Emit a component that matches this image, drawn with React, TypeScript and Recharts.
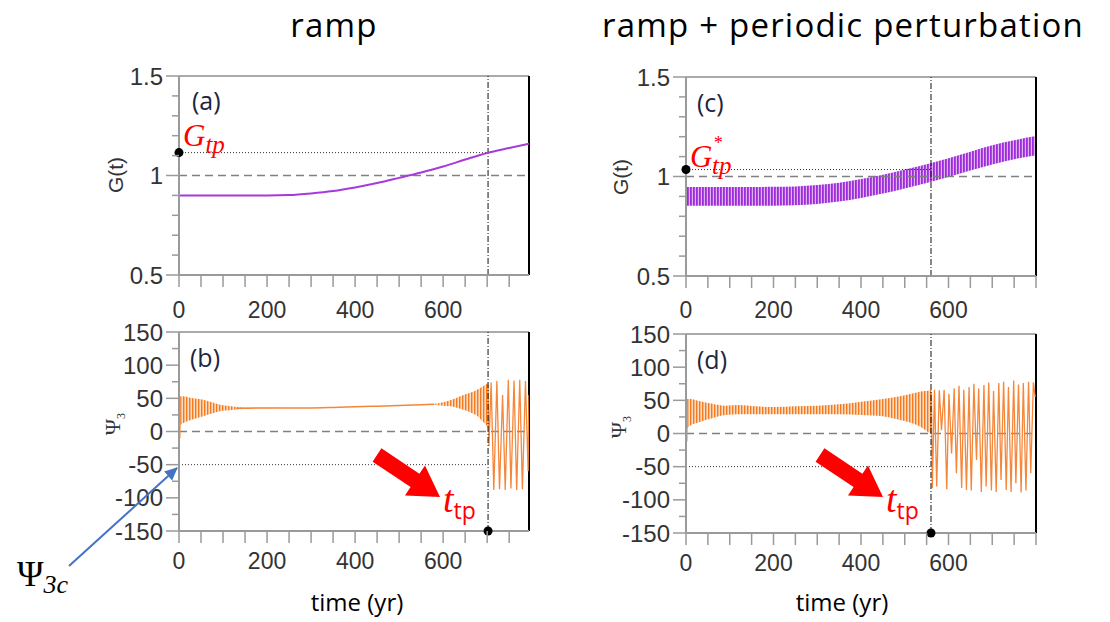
import React from "react";
import {
  ComposedChart,
  Line,
  Area,
  XAxis,
  YAxis,
  ReferenceLine,
  ReferenceDot,
} from "recharts";

// axis ticks
const xTicksAB = [0, 50, 100, 150, 200, 250, 300, 350, 400, 450, 500, 550, 600, 650, 700, 750];
const xTicksCD = [0, 50, 100, 150, 200, 250, 300, 350, 400, 450, 500, 550, 600, 650, 700, 750, 800];
const xLabels = [0, 200, 400, 600];
const gTicks = [0.5, 0.6, 0.7, 0.8, 0.9, 1, 1.1, 1.2, 1.3, 1.4, 1.5];
const gLabels = [0.5, 1, 1.5];
const psiTicks = [-150, -125, -100, -75, -50, -25, 0, 25, 50, 75, 100, 125, 150];
const psiLabels = [-150, -100, -50, 0, 50, 100, 150];

// (a) ramp
const aT = [0, 50, 100, 150, 200, 250, 300, 350, 400, 450, 500, 550, 600, 650, 700, 750, 795];
const aG = [0.9, 0.9, 0.9, 0.9, 0.9, 0.902, 0.91, 0.922, 0.94, 0.962, 0.988, 1.015, 1.045, 1.08, 1.113, 1.138, 1.16];
const gTip = 1.115;
const tTipA = 702;

// (c) ramp + periodic perturbation (envelope of the fast oscillation)
const cT = [0, 50, 100, 150, 200, 250, 300, 350, 400, 450, 500, 550, 600, 650, 700, 750, 800];
const cHi = [0.947, 0.947, 0.947, 0.947, 0.948, 0.95, 0.957, 0.969, 0.987, 1.009, 1.035, 1.062, 1.092, 1.125, 1.157, 1.182, 1.203];
const cLo = [0.853, 0.853, 0.853, 0.853, 0.853, 0.855, 0.862, 0.874, 0.892, 0.914, 0.94, 0.967, 0.997, 1.03, 1.06, 1.087, 1.107];
const gTipStar = 1.035;
const tTipC = 560;

// (b) psi3, ramp
const bSpikeT = [0, 0.8, 2, 3];
const bSpike = [108, 40, -10, 52];
const bRingT = [3, 10, 25, 55, 75, 93, 115, 131, 160, 200, 250];
const bRingHi = [53, 53, 51, 48, 44, 40.5, 38.5, 37, 36, 35.8, 35.6];
const bRingLo = [10, 13, 17, 23, 27, 30.5, 32, 33, 34.5, 35.2, 35.4];
const bFlatT = [130, 160, 200, 250, 300, 350, 400, 450, 500, 550, 580];
const bFlat = [35, 35.2, 35.4, 35.5, 35.5, 36.2, 37.3, 38.2, 39.2, 40.3, 41];
const bGrowT = [580, 600, 616, 635, 654, 668, 680, 690, 697, 702];
const bGrowHi = [41.5, 44, 47, 52, 57, 60, 64, 68, 71, 73];
const bGrowLo = [40.5, 39, 38, 35, 31, 27, 22, 15, 10, 5];
const bTipT = [702, 704, 709, 715, 722, 728, 735, 741, 748, 754, 761, 767, 774, 780, 787, 793, 795];
const bTip = [70, -22, 74, -88, 76, -87, 55, -88, 78, -86, 77, -88, 78, -87, 76, -60, 55];
const psiC = -50;

// (d) psi3, ramp + periodic perturbation
const dSpikeT = [0, 0.8, 2, 3];
const dSpike = [110, 40, -12, 52];
const dRingT = [3, 10, 30, 60, 90, 120, 160, 200, 250, 300, 350, 400, 450, 480, 510, 530, 545, 556, 561];
const dRingHi = [52, 52, 49, 45, 42, 43, 41, 40, 41, 42, 44, 48, 52, 55, 59, 62, 64, 65, 66];
const dRingLo = [8, 12, 17, 23, 28, 29, 29, 29, 29, 29, 29, 28, 26, 22, 17, 12, 6, 1, 0];
const dTipT = [561, 563, 568, 573, 579, 584, 590, 596, 601, 607, 613, 618, 624, 630, 635, 641, 647, 652, 658, 664, 669, 675, 681, 686, 692, 698, 703, 709, 715, 720, 726, 732, 737, 743, 749, 754, 760, 766, 771, 777, 783, 788, 794, 798];
const dTip = [62, -82, 66, -80, 65, 5, 66, -84, 60, -30, 68, -60, 72, -82, 66, -85, 70, -86, 75, -40, 68, -88, 73, -80, 77, -86, 64, -88, 76, -70, 78, -85, 70, -88, 80, -75, 74, -89, 76, -86, 78, -60, 77, 55];

const pts = (t: number[], v: number[]) => t.map((x, i) => ({ t: x, v: v[i] }));
const band = (t: number[], lo: number[], hi: number[]) =>
  t.map((x, i) => ({ t: x, range: [lo[i], hi[i]] }));

const PURPLE = "#a63bdc";
const ORANGE = "#f5873a";
const AXIS = "#9a9a9a";
const TICK_FONT = "Liberation Sans, Arial, sans-serif";
const PLOT_W = 350;
const PLOT_H = 199;
const TOP_PAD = 22;

const yTick = (majors: number[]) => (p: any) => {
  const v = p.payload.value;
  const major = majors.includes(v);
  return (
    <g>
      <line x1={p.x - (major ? 13 : 7)} x2={p.x} y1={p.y} y2={p.y} stroke={AXIS} strokeWidth={1.5} />
      {major && (
        <text x={p.x - 16} y={p.y} dy="0.36em" textAnchor="end" fontSize={24} fontFamily={TICK_FONT} fill="#333">
          {v}
        </text>
      )}
    </g>
  );
};

const xTick = (dy: number) => (p: any) => {
  const v = p.payload.value;
  return (
    <g>
      <line x1={p.x} x2={p.x} y1={p.y} y2={p.y + 12} stroke={AXIS} strokeWidth={1.5} />
      {xLabels.includes(v) && (
        <text x={p.x} y={p.y + dy} textAnchor="middle" fontSize={23} fontFamily={TICK_FONT} fill="#333">
          {v}
        </text>
      )}
    </g>
  );
};

function Panel({
  left,
  top,
  xMax,
  xTicks,
  yDomain,
  yTicks,
  yMajors,
  labelDy,
  children,
}: {
  left: number;
  top: number;
  xMax: number;
  xTicks: number[];
  yDomain: [number, number];
  yTicks: number[];
  yMajors: number[];
  labelDy: number;
  children: React.ReactNode;
}) {
  return (
    <div style={{ position: "absolute", left: left - 80, top: top - TOP_PAD }}>
      <ComposedChart width={80 + PLOT_W + 12} height={TOP_PAD + PLOT_H + 50} margin={{ top: TOP_PAD, right: 12, left: 0, bottom: 0 }}>
        <defs>
          <pattern id="hatchPurple" width="3" height="6" patternUnits="userSpaceOnUse">
            <rect x="0" y="0" width="3" height="6" fill="#dcb2f0" />
            <rect x="0" y="0" width="1.8" height="6" fill="#9d2ddb" />
          </pattern>
          <pattern id="hatchOrange" width="3" height="6" patternUnits="userSpaceOnUse">
            <rect x="0" y="0" width="3" height="6" fill="#fcdcc2" />
            <rect x="0" y="0" width="1.4" height="6" fill="#f37a1e" />
          </pattern>
        </defs>
        <XAxis
          type="number"
          dataKey="t"
          domain={[0, xMax]}
          ticks={xTicks}
          interval={0}
          allowDataOverflow
          tickSize={0}
          tickMargin={0}
          tickLine={false}
          axisLine={{ stroke: AXIS, strokeWidth: 2 }}
          tick={xTick(labelDy)}
          height={50}
        />
        <YAxis
          type="number"
          domain={yDomain}
          ticks={yTicks}
          interval={0}
          allowDataOverflow
          width={80}
          tickSize={0}
          tickMargin={0}
          tickLine={false}
          axisLine={{ stroke: AXIS, strokeWidth: 2 }}
          tick={yTick(yMajors)}
        />
        <ReferenceLine y={yDomain[1]} stroke="#aaa" strokeWidth={2} />
        <ReferenceLine x={xMax} stroke="#000" strokeWidth={2} />
        {children}
      </ComposedChart>
    </div>
  );
}

const dashed = { stroke: "#808080", strokeWidth: 1.5, strokeDasharray: "8 5" };
const dotted = { stroke: "#333", strokeWidth: 1, strokeDasharray: "1 2" };
const dashDot = { stroke: "#111", strokeWidth: 1, strokeDasharray: "6 2 1 2" };

export default function App() {
  const serif = "Liberation Serif, DejaVu Serif, serif";
  const sans = "Open Sans, Noto Sans, sans-serif";
  const arrow = (dx: number) =>
    [
      [372.6, 461.7],
      [410.6, 487.1],
      [405, 495.4],
      [440, 497],
      [425, 465.4],
      [419.4, 473.7],
      [381.4, 448.3],
    ]
      .map(([x, y]) => `${x + dx},${y}`)
      .join(" ");

  return (
    <div style={{ position: "absolute", left: 0, top: 0, width: 1110, height: 622, background: "#fff", overflow: "hidden" }}>
      {/* (a) */}
      <Panel left={179} top={76} xMax={795} xTicks={xTicksAB} yDomain={[0.5, 1.5]} yTicks={gTicks} yMajors={gLabels} labelDy={43}>
        <ReferenceLine y={1} {...dashed} />
        <ReferenceLine segment={[{ x: 0, y: gTip }, { x: tTipA, y: gTip }]} {...dotted} />
        <ReferenceLine x={tTipA} {...dashDot} />
        <Line data={pts(aT, aG)} dataKey="v" type="monotone" stroke={PURPLE} strokeWidth={2} dot={false} isAnimationActive={false} />
        <ReferenceDot x={0} y={gTip} r={4.5} fill="#000" stroke="none" />
      </Panel>

      {/* (c) */}
      <Panel left={686} top={77} xMax={800} xTicks={xTicksCD} yDomain={[0.5, 1.5]} yTicks={gTicks} yMajors={gLabels} labelDy={42}>
        <ReferenceLine y={1} {...dashed} />
        <Area data={band(cT, cLo, cHi)} dataKey="range" type="monotone" stroke="none" fill="url(#hatchPurple)" fillOpacity={1} isAnimationActive={false} />
        <ReferenceLine segment={[{ x: 0, y: gTipStar }, { x: tTipC, y: gTipStar }]} {...dotted} />
        <ReferenceLine x={tTipC} {...dashDot} />
        <ReferenceDot x={0} y={gTipStar} r={4.5} fill="#000" stroke="none" />
      </Panel>

      {/* (b) */}
      <Panel left={179} top={332} xMax={795} xTicks={xTicksAB} yDomain={[-150, 150]} yTicks={psiTicks} yMajors={psiLabels} labelDy={38}>
        <ReferenceLine y={0} {...dashed} />
        <ReferenceLine segment={[{ x: 0, y: psiC }, { x: tTipA, y: psiC }]} {...dotted} />
        <Area data={band(bRingT, bRingLo, bRingHi)} dataKey="range" type="monotone" stroke="none" fill="url(#hatchOrange)" fillOpacity={1} isAnimationActive={false} />
        <Area data={band(bGrowT, bGrowLo, bGrowHi)} dataKey="range" type="monotone" stroke="none" fill="url(#hatchOrange)" fillOpacity={1} isAnimationActive={false} />
        <Line data={pts(bSpikeT, bSpike)} dataKey="v" type="linear" stroke={ORANGE} strokeWidth={1.2} dot={false} isAnimationActive={false} />
        <Line data={pts(bFlatT, bFlat)} dataKey="v" type="monotone" stroke={ORANGE} strokeWidth={1.5} dot={false} isAnimationActive={false} />
        <Line data={pts(bTipT, bTip)} dataKey="v" type="linear" stroke={ORANGE} strokeWidth={1.3} dot={false} isAnimationActive={false} />
        <ReferenceLine x={tTipA} {...dashDot} />
        <ReferenceDot x={tTipA} y={-150} r={4.5} fill="#000" stroke="none" />
      </Panel>

      {/* (d) */}
      <Panel left={686} top={334} xMax={800} xTicks={xTicksCD} yDomain={[-150, 150]} yTicks={psiTicks} yMajors={psiLabels} labelDy={38}>
        <ReferenceLine y={0} {...dashed} />
        <ReferenceLine segment={[{ x: 0, y: psiC }, { x: tTipC, y: psiC }]} {...dotted} />
        <Area data={band(dRingT, dRingLo, dRingHi)} dataKey="range" type="monotone" stroke="none" fill="url(#hatchOrange)" fillOpacity={1} isAnimationActive={false} />
        <Line data={pts(dSpikeT, dSpike)} dataKey="v" type="linear" stroke={ORANGE} strokeWidth={1.2} dot={false} isAnimationActive={false} />
        <Line data={pts(dTipT, dTip)} dataKey="v" type="linear" stroke={ORANGE} strokeWidth={1.3} dot={false} isAnimationActive={false} />
        <ReferenceLine x={tTipC} {...dashDot} />
        <ReferenceDot x={tTipC} y={-150} r={4.5} fill="#000" stroke="none" />
      </Panel>

      {/* annotations */}
      <svg width={1110} height={622} style={{ position: "absolute", left: 0, top: 0, pointerEvents: "none" }}>
        <defs>
          <marker id="blueHead" markerWidth="14" markerHeight="14" refX="12" refY="7" orient="auto" markerUnits="userSpaceOnUse">
            <path d="M0,1 L13,7 L0,13 z" fill="#4472c4" />
          </marker>
        </defs>
        <text x={334} y={37} textAnchor="middle" fontFamily={sans} fontSize={33} letterSpacing={1.2} fill="#000">ramp</text>
        <text x={843} y={37} textAnchor="middle" fontFamily={sans} fontSize={33} letterSpacing={1.2} fill="#000">ramp + periodic perturbation</text>
        <text x={357} y={611} textAnchor="middle" fontFamily={sans} fontSize={24} fill="#000">time (yr)</text>
        <text x={842} y={611} textAnchor="middle" fontFamily={sans} fontSize={24} fill="#000">time (yr)</text>

        <text x={192} y={110} fontFamily={sans} fontSize={25} fill="#1c2541">(a)</text>
        <text x={697} y={112} fontFamily={sans} fontSize={25} fill="#1c2541">(c)</text>
        <text x={190} y={367} fontFamily={sans} fontSize={25} fill="#1c2541">(b)</text>
        <text x={697} y={369} fontFamily={sans} fontSize={25} fill="#1c2541">(d)</text>

        <text transform="rotate(-90 123 175)" x={123} y={175} textAnchor="middle" fontFamily={TICK_FONT} fontSize={21} fill="#333">G(t)</text>
        <text transform="rotate(-90 628 177)" x={628} y={177} textAnchor="middle" fontFamily={TICK_FONT} fontSize={21} fill="#333">G(t)</text>
        <text transform="rotate(-90 120 424)" x={120} y={424} textAnchor="middle" fontFamily={serif} fontSize={22} fill="#333">
          Ψ<tspan fontSize={12} dy={5}>3</tspan>
        </text>
        <text transform="rotate(-90 626 427)" x={626} y={427} textAnchor="middle" fontFamily={serif} fontSize={22} fill="#333">
          Ψ<tspan fontSize={12} dy={5}>3</tspan>
        </text>

        <text x={183} y={146} fontFamily={serif} fontStyle="italic" fontSize={31} fill="#ff0000">
          G<tspan fontSize={25} dy={7}>tp</tspan>
        </text>
        <text x={690} y={167} fontFamily={serif} fontStyle="italic" fontSize={31} fill="#ff0000">G</text>
        <text x={712} y={174} fontFamily={serif} fontStyle="italic" fontSize={25} fill="#ff0000">tp</text>
        <text x={713} y={149} fontFamily={serif} fontStyle="italic" fontSize={18} fill="#ff0000">*</text>

        <polygon points={arrow(0)} fill="#ff0000" />
        <polygon points={arrow(443)} fill="#ff0000" />
        <text x={443} y={512} fontFamily={serif} fontStyle="italic" fontSize={38} fill="#ff0000">
          t<tspan fontFamily={sans} fontStyle="normal" fontSize={23} dy={7}>tp</tspan>
        </text>
        <text x={886} y={512} fontFamily={serif} fontStyle="italic" fontSize={38} fill="#ff0000">
          t<tspan fontFamily={sans} fontStyle="normal" fontSize={23} dy={7}>tp</tspan>
        </text>

        <line x1={69} y1={566} x2={177} y2={468} stroke="#4472c4" strokeWidth={2} markerEnd="url(#blueHead)" />
        <text x={17} y={586} fontFamily={serif} fontSize={36} fill="#000">
          Ψ<tspan fontStyle="italic" fontSize={26} dy={7}>3c</tspan>
        </text>
      </svg>
    </div>
  );
}
